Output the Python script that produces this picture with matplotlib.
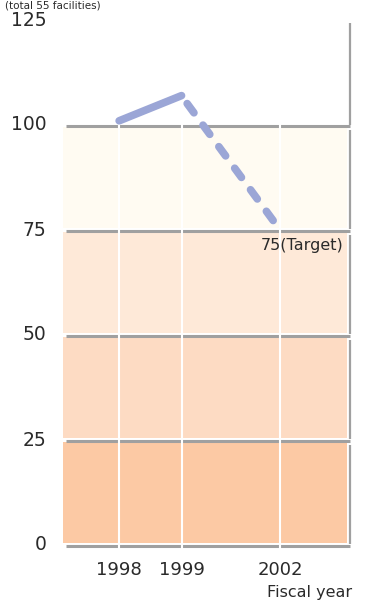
import matplotlib.pyplot as plt
from matplotlib.patches import Rectangle

# datos
years = ["1998", "1999", "2002"]
actual = [101, 107]          # 1998, 1999
target = 75                  # meta 2002
ticks_y = [0, 25, 50, 75, 100, 125]
band_colors = ["#fcc9a4", "#fddbc3", "#fee9d8", "#fffbf2"]

x_pos = [1.0, 2.0, 3.58]     # posiciones de los anos en el eje x
x_left, x_right = 0.10, 4.70

fig = plt.figure(figsize=(3.68, 6.05), dpi=100)
ax = fig.add_axes([63/368, 60/605, (350-63)/368, 525/605])
ax.set_xlim(x_left, x_right)
ax.set_ylim(0, 125)
ax.axis("off")

gris = "#a0a0a0"
texto = "#2a2a2a"

# franjas de color con sombra gris abajo y a la derecha
for i, c in enumerate(band_colors):
    y0 = ticks_y[i]
    y1 = ticks_y[i+1]
    ax.add_patch(Rectangle((x_left, y0 + 0.5), x_right - x_left - 0.05, 24.0,
                           color=c, zorder=1, lw=0))
    ax.plot([x_right, x_right], [y0 + 0.3, y1 - 1.2], color=gris, lw=1.6,
            zorder=2, clip_on=False, solid_capstyle="butt")

# linea vertical arriba de 100
ax.plot([x_right, x_right], [100, 124.3], color=gris, lw=1.6, zorder=2,
        clip_on=False, solid_capstyle="butt")

# lineas horizontales grises
for y in ticks_y[:-1]:
    ax.plot([x_left + 0.05, x_right], [y - 0.2, y - 0.2], color=gris, lw=2.2,
            zorder=2, clip_on=False, solid_capstyle="butt")

# lineas blancas verticales
for xp in x_pos:
    ax.plot([xp, xp], [-0.8, 100.3], color="white", lw=1.5, zorder=3,
            clip_on=False)

# serie real y meta
linea = "#9ba6d6"
ax.plot(x_pos[:2], actual, color=linea, lw=5.5, solid_capstyle="round",
        zorder=4)
ax.plot([x_pos[1] + 0.09, x_pos[2]], [actual[1] - 1.9, target], color=linea,
        lw=5.5, dashes=(1.5, 2.0), dash_capstyle="round", zorder=4)

# textos
for y in ticks_y:
    ax.text(x_left - 0.27, y, str(y), ha="right", va="center", fontsize=13.5,
            color=texto, clip_on=False)
for xp, yr in zip(x_pos, years):
    ax.text(xp, -6.0, yr, ha="center", va="center", fontsize=13,
            color=texto, clip_on=False)
ax.text(x_right + 0.03, -11.4, "Fiscal year", ha="right", va="center",
        fontsize=11.5, color=texto, clip_on=False)
ax.text(x_right - 0.1, 71.3, "75(Target)", ha="right", va="center",
        fontsize=11.5, color=texto, clip_on=False)
fig.text(5/368, 1 - 5/605, "(total 55 facilities)", ha="left", va="center",
         fontsize=7.5, color=texto)

plt.savefig("out.png", dpi=100)
